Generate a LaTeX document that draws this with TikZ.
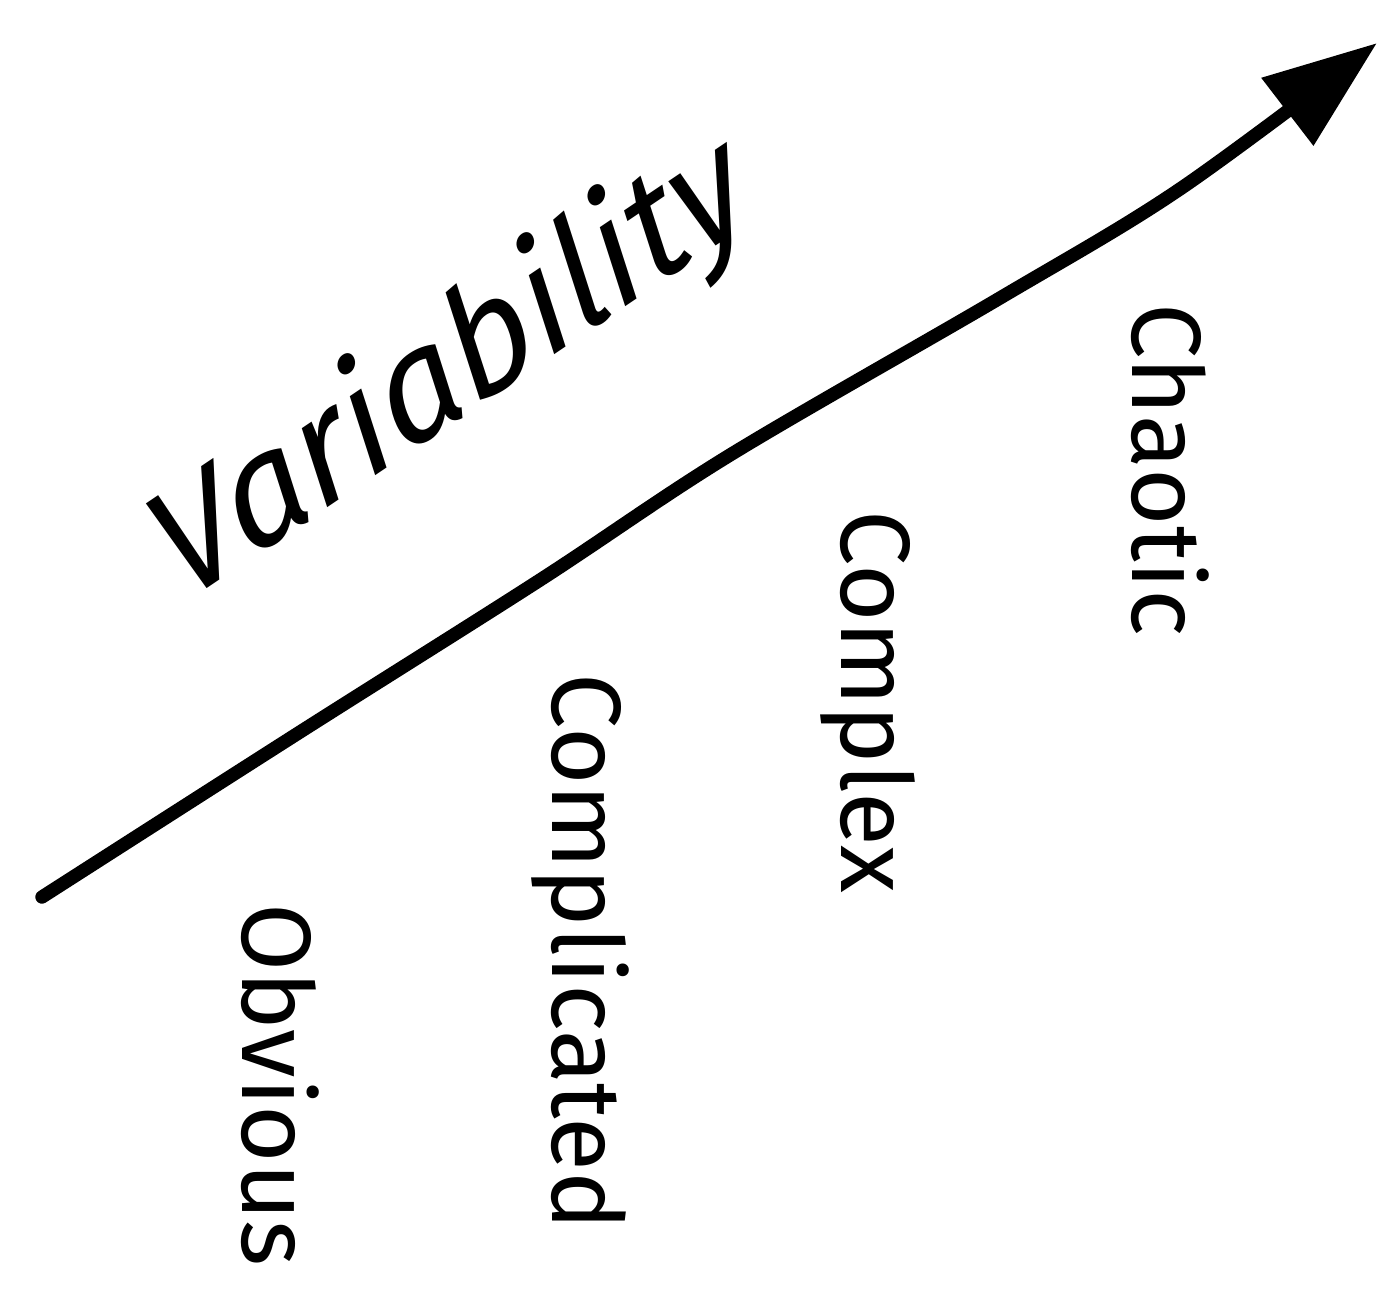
\documentclass[tikz,border=0pt]{standalone}
\usepackage{fontspec}
\setmainfont{Fira Sans}
\usetikzlibrary{arrows.meta}
\begin{document}
\begin{tikzpicture}[x=0.01cm,y=-0.01cm,
  lbl/.style={font=\fontsize{28}{32}\selectfont, inner sep=0pt, rotate=-90},
  big/.style={font=\itshape\fontsize{43}{50}\selectfont, inner sep=0pt, rotate=34, xslant=0.15, transform shape}]
\useasboundingbox (0,0) rectangle (1381,1306);
\coordinate (s) at (42,897);
\coordinate (e) at (1377,43);
\draw[line width=3.8pt, line cap=round, -{Triangle[length=1.13cm,width=0.82cm]}]
  plot[smooth, tension=0.55] coordinates {(42,897) (300,732) (540,580) (730,455) (1000,298) (1180,189) (1377,43)};
\node[big] (v) at (452,372) {Variability};
\node[lbl] (ch) at (1170,470) {Chaotic};
\node[lbl] (cx) at (868,702) {Complex};
\node[lbl] (cd) at (580,952) {Complicated};
\node[lbl] (ob) at (280,1085) {Obvious};
\end{tikzpicture}
\end{document}
